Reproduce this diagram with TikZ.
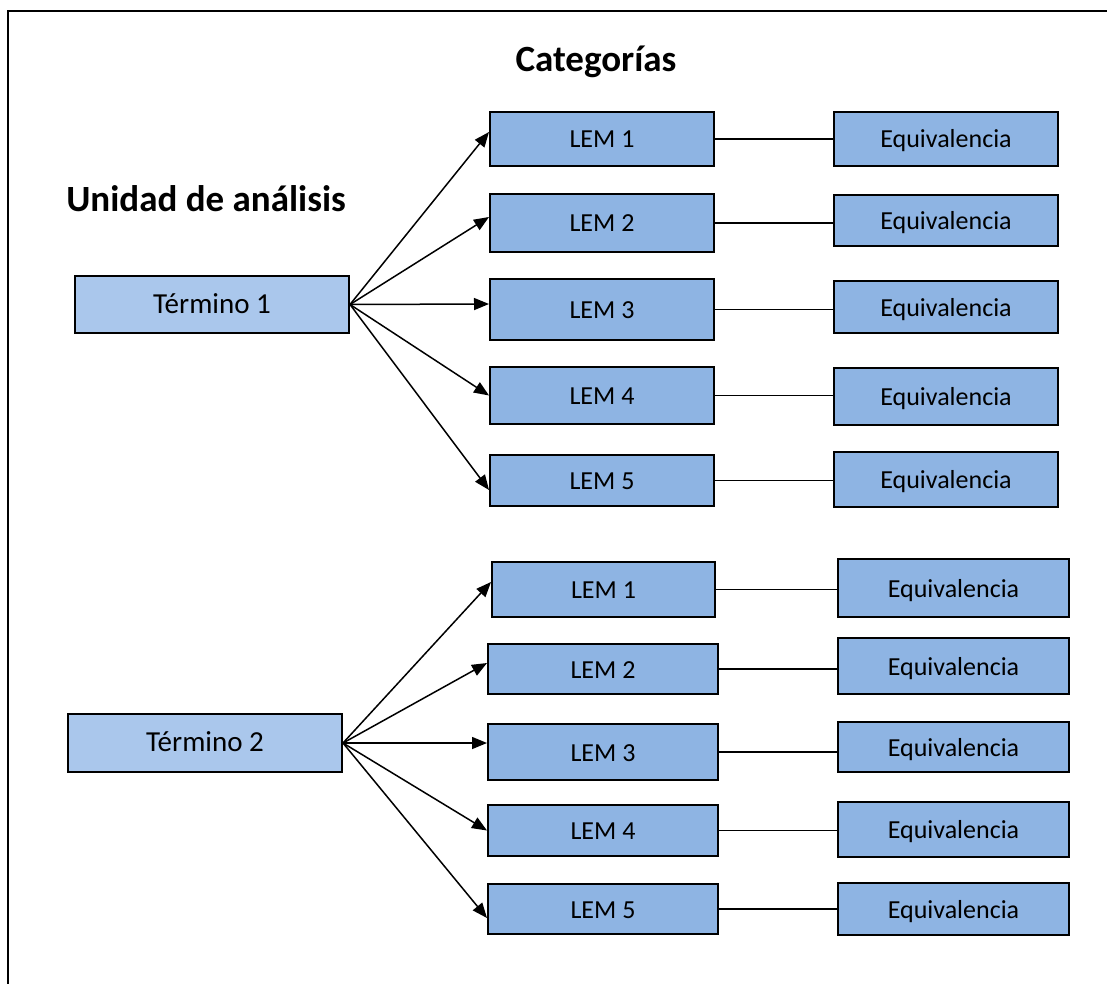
\documentclass[tikz,border=0pt]{standalone}
\usepackage{fontspec}
\setmainfont{Carlito}
\usetikzlibrary{arrows.meta,calc}

\definecolor{lemfill}{RGB}{142,180,227}
\definecolor{termfill}{RGB}{170,199,236}

\tikzset{
  box/.style={draw=black, line width=2pt, inner sep=0pt, fill=lemfill,
    text height=18pt, text depth=0pt,
    font=\fontsize{26}{30}\selectfont},
  termbox/.style={box, fill=termfill, text height=17pt,
    font=\fontsize{29}{33}\selectfont},
  heading/.style={inner sep=0pt, anchor=base, font=\fontsize{37}{42}\selectfont\bfseries},
  arrowline/.style={line width=1.5pt, -{Triangle[length=15pt,width=12pt]}},
  link/.style={line width=1.6pt},
  frameline/.style={line width=2.2pt}
}

\begin{document}
\begin{tikzpicture}[x=1pt,y=-1pt]
\useasboundingbox (0,0) rectangle (1107,984);

% open frame: top and left edges
\coordinate (fa) at (1110,11);
\coordinate (fb) at (8,11);
\coordinate (fc) at (8,990);
\draw[frameline] (fa) -- (fb) -- (fc);

% headings
\node[heading] (cat) at (596,72) {Categorías};
\node[heading] (uni) at (206,212) {Unidad de análisis};

% first term
\node[termbox, minimum width=274pt, minimum height=57pt] (t1) at (212,304.5) {Término 1};

\node[box, minimum width=224pt, minimum height=54pt] (l11) at (602,139)   {LEM 1};
\node[box, minimum width=224pt, minimum height=58pt] (l12) at (602,223)   {LEM 2};
\node[box, minimum width=224pt, minimum height=61pt] (l13) at (602,309.5) {LEM 3};
\node[box, minimum width=224pt, minimum height=57pt] (l14) at (602,395.5) {LEM 4};
\node[box, minimum width=224pt, minimum height=51pt] (l15) at (602,480.5) {LEM 5};

\node[box, minimum width=224pt, minimum height=54pt] (e11) at (946,139)   {Equivalencia};
\node[box, minimum width=224pt, minimum height=51pt] (e12) at (946,220.5) {Equivalencia};
\node[box, minimum width=224pt, minimum height=52pt] (e13) at (946,307)   {Equivalencia};
\node[box, minimum width=224pt, minimum height=57pt] (e14) at (946,396.5) {Equivalencia};
\node[box, minimum width=224pt, minimum height=55pt] (e15) at (946,479.5) {Equivalencia};

\draw[arrowline] (t1.east) -- ([yshift=7pt]l11.west);
\draw[arrowline] (t1.east) -- ([yshift=6pt]l12.west);
\draw[arrowline] (t1.east) -- ([yshift=5.5pt]l13.west);
\draw[arrowline] (t1.east) -- (l14.west);
\draw[arrowline] (t1.east) -- ([yshift=-9.5pt]l15.west);

\foreach \i in {1,...,5}{
  \draw[link] (l1\i.east) -- (l1\i.east -| e1\i.west);
}

% second term
\node[termbox, minimum width=274pt, minimum height=58pt] (t2) at (205,743) {Término 2};

\node[box, minimum width=223pt, minimum height=55pt] (l21) at (603.5,589.5) {LEM 1};
\node[box, minimum width=230pt, minimum height=50pt] (l22) at (603,669)     {LEM 2};
\node[box, minimum width=230pt, minimum height=56pt] (l23) at (603,752)     {LEM 3};
\node[box, minimum width=230pt, minimum height=51pt] (l24) at (603,830.5)   {LEM 4};
\node[box, minimum width=230pt, minimum height=50pt] (l25) at (603,909)     {LEM 5};

\node[box, minimum width=231pt, minimum height=58pt] (e21) at (953.5,588)   {Equivalencia};
\node[box, minimum width=231pt, minimum height=56pt] (e22) at (953.5,666)   {Equivalencia};
\node[box, minimum width=231pt, minimum height=50pt] (e23) at (953.5,747)   {Equivalencia};
\node[box, minimum width=231pt, minimum height=55pt] (e24) at (953.5,829.5) {Equivalencia};
\node[box, minimum width=231pt, minimum height=52pt] (e25) at (953.5,909)   {Equivalencia};

\draw[arrowline] (t2.east) -- ([yshift=7.5pt]l21.west);
\draw[arrowline] (t2.east) -- ([yshift=6pt]l22.west);
\draw[arrowline] (t2.east) -- ([yshift=9pt]l23.west);
\draw[arrowline] (t2.east) -- (l24.west);
\draw[arrowline] (t2.east) -- ([yshift=-9pt]l25.west);

\foreach \i in {1,...,5}{
  \draw[link] (l2\i.east) -- (l2\i.east -| e2\i.west);
}
\end{tikzpicture}
\end{document}
